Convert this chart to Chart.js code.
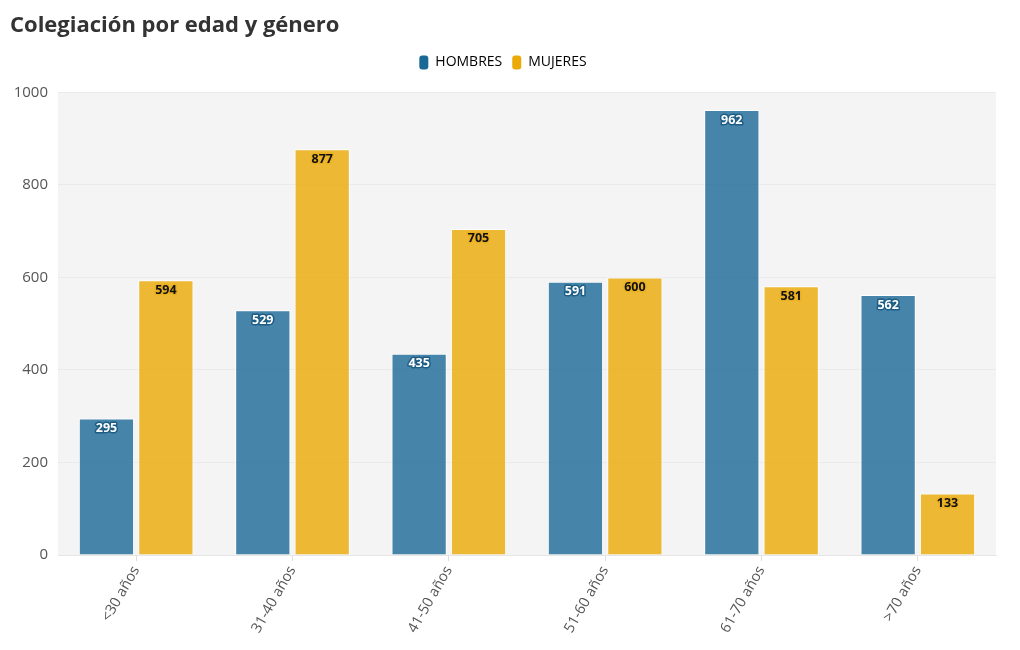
<!DOCTYPE html>
<html>
<head>
<meta charset="utf-8">
<script src="https://cdn.jsdelivr.net/npm/chart.js@4"></script>
<style>
html,body{margin:0;padding:0;background:#fff;}
#wrap{width:1020px;height:650px;position:relative;}
</style>
</head>
<body>
<div id="wrap"><canvas id="c" width="1020" height="650"></canvas></div>
<script>
const categories = ["<30 años", "31-40 años", "41-50 años", "51-60 años", "61-70 años", ">70 años"];
const hombres = [295, 529, 435, 591, 962, 562];
const mujeres = [594, 877, 705, 600, 581, 133];
const yTicks = [0, 200, 400, 600, 800, 1000];
const seriesNames = ["HOMBRES", "MUJERES"];
const titleText = "Colegiación por edad y género";

const FONT = "'Open Sans', 'Noto Sans', sans-serif";
const solid = ["rgb(26,104,150)", "rgb(235,170,5)"];
const fills = ["rgba(26,104,150,0.8)", "rgba(235,170,5,0.8)"];
const labelStyle = [
  {fill: "#ffffff", stroke: "#1d5c84"},
  {fill: "#111111", stroke: "#eab021"}
];

const bgPlugin = {
  id: "plotBg",
  beforeDraw(chart) {
    const {ctx, chartArea: a} = chart;
    ctx.save();
    ctx.fillStyle = "#f4f4f4";
    ctx.fillRect(a.left, a.top, a.right - a.left, a.bottom - a.top);
    ctx.restore();
  }
};

const legendGap = {
  id: "legendGap",
  beforeLayout(chart) {
    const lg = chart.legend;
    if (lg && !lg._gapPatched) {
      const fit = lg.fit;
      lg.fit = function () { fit.call(this); this.height += 13; };
      lg._gapPatched = true;
    }
  }
};

const labelPlugin = {
  id: "barLabels",
  afterDatasetsDraw(chart) {
    const ctx = chart.ctx;
    ctx.save();
    ctx.font = "bold 12.5px " + FONT;
    ctx.textAlign = "center";
    ctx.textBaseline = "middle";
    ctx.lineJoin = "round";
    chart.data.datasets.forEach((ds, di) => {
      const meta = chart.getDatasetMeta(di);
      meta.data.forEach((bar, i) => {
        const txt = String(ds.data[i]);
        const x = bar.x, y = bar.y + 10;
        ctx.lineWidth = 3;
        ctx.strokeStyle = labelStyle[di].stroke;
        ctx.strokeText(txt, x, y);
        ctx.fillStyle = labelStyle[di].fill;
        ctx.fillText(txt, x, y);
      });
    });
    ctx.restore();
  }
};

new Chart(document.getElementById("c"), {
  type: "bar",
  data: {
    labels: categories,
    datasets: [
      {label: seriesNames[0], data: hombres, backgroundColor: fills[0], borderColor: "#ffffff", borderWidth: 1},
      {label: seriesNames[1], data: mujeres, backgroundColor: fills[1], borderColor: "#ffffff", borderWidth: 1}
    ]
  },
  options: {
    responsive: false,
    animation: false,
    devicePixelRatio: 1,
    layout: {padding: {left: 10, right: 24, top: 2, bottom: 12}},
    datasets: {bar: {categoryPercentage: 0.76, barPercentage: 0.93}},
    plugins: {
      tooltip: {enabled: false},
      title: {
        display: true,
        text: titleText,
        align: "start",
        color: "#333333",
        font: {family: FONT, size: 22, weight: "bold"},
        padding: {top: 11, bottom: 6}
      },
      legend: {
        display: true,
        position: "top",
        align: "center",
        labels: {
          color: "#333333",
          font: {family: FONT, size: 14},
          boxWidth: 9,
          boxHeight: 14,
          padding: 10,
          useBorderRadius: true,
          borderRadius: 3,
          generateLabels(chart) {
            return chart.data.datasets.map((ds, i) => ({
              text: ds.label,
              fillStyle: solid[i],
              strokeStyle: solid[i],
              lineWidth: 0,
              borderRadius: 3,
              datasetIndex: i,
              hidden: false
            }));
          }
        }
      }
    },
    scales: {
      x: {
        grid: {display: true, offset: false, drawOnChartArea: false, color: "#dddddd", tickLength: 6},
        border: {display: true, color: "#e6e6e6"},
        ticks: {
          color: "#555555",
          font: {family: FONT, size: 14.5},
          minRotation: 60,
          maxRotation: 60,
          padding: 2
        }
      },
      y: {
        min: 0,
        max: 1000,
        afterBuildTicks(axis) { axis.ticks = yTicks.map(v => ({value: v})); },
        afterFit(axis) { axis.width = 48; },
        grid: {color: "#eaeaea", drawTicks: false},
        border: {display: false},
        ticks: {
          color: "#555555",
          font: {family: FONT, size: 15},
          padding: 10,
          callback: (v) => String(v)
        }
      }
    }
  },
  plugins: [bgPlugin, legendGap, labelPlugin]
});
</script>
</body>
</html>
